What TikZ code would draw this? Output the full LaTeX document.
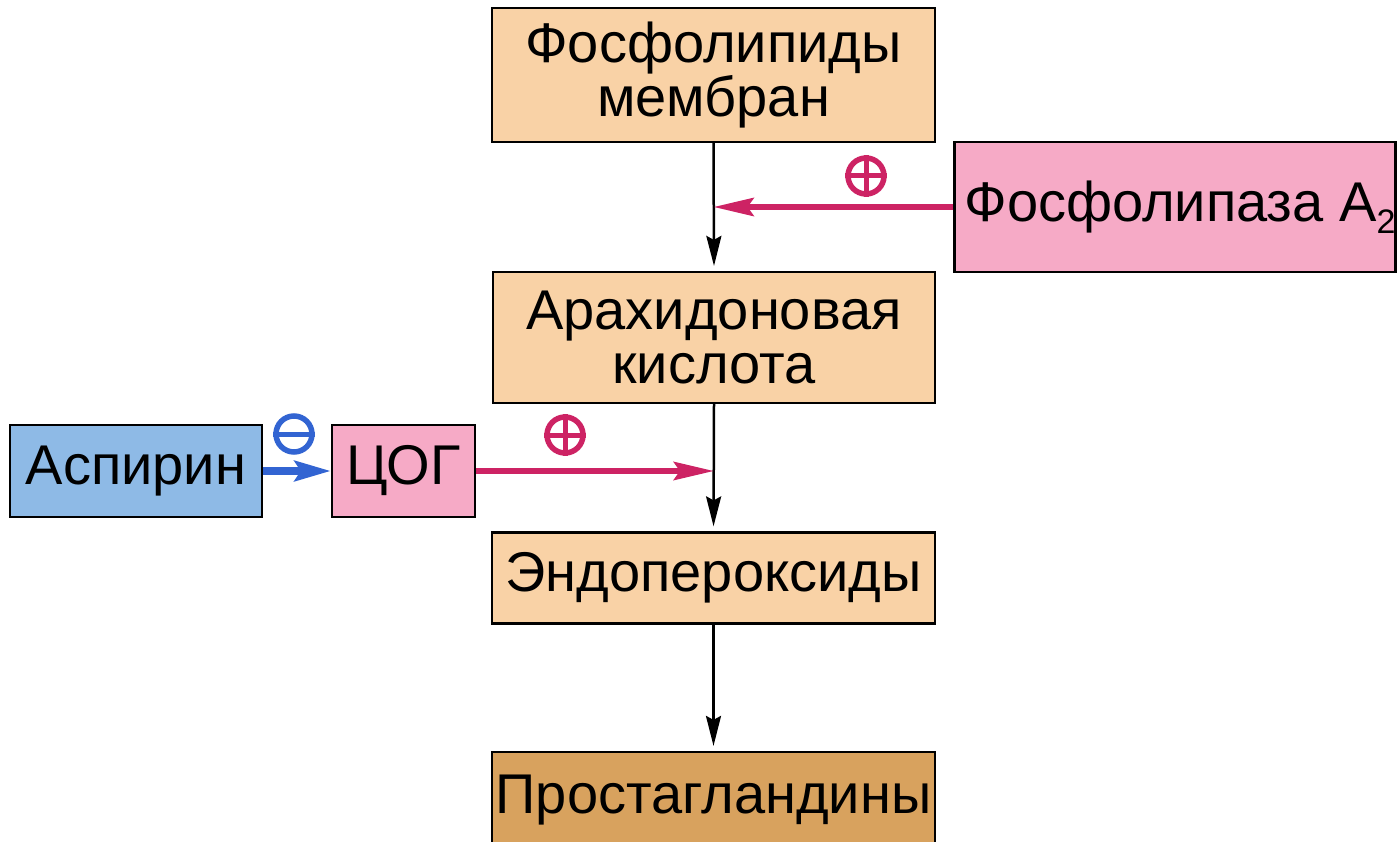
\documentclass[tikz,border=0pt]{standalone}
\usepackage{fontspec}
\setmainfont{Liberation Sans}
\usetikzlibrary{arrows.meta, positioning}
\definecolor{peach}{RGB}{249,210,166}
\definecolor{rosebox}{RGB}{246,170,198}
\definecolor{skybox}{RGB}{142,186,230}
\definecolor{tanbox}{RGB}{216,162,94}
\definecolor{plusred}{RGB}{205,35,100}
\definecolor{minusblue}{RGB}{50,100,210}
\newcommand{\subtwo}{\raisebox{-0.22em}{\fontsize{34}{34}\selectfont 2}}
\tikzset{
  box/.style={draw=black, line width=2.2pt, inner sep=0pt, align=center,
    font=\fontsize{56}{54}\selectfont},
  flow/.style={line width=2.5pt, -{Stealth[length=30pt,width=15pt,inset=4pt]}, shorten >=5pt},
  boost/.style={draw=plusred, line width=6pt, -{Stealth[length=40pt,width=18pt,inset=6pt]}},
  block/.style={draw=minusblue, line width=8pt, -{Stealth[length=36pt,width=20pt,inset=6pt]}},
  sgn/.style={circle, draw, line width=5.5pt, minimum size=36pt, inner sep=0pt}
}
\begin{document}
\begin{tikzpicture}[x=1pt, y=-1pt]
\useasboundingbox (0,0) rectangle (1400,842);
\fill[white] (0,0) rectangle (1400,842);
% Main chain
\node[box, fill=peach, minimum width=443pt, minimum height=134pt] (phos) at (713.5,75) {Фосфолипиды\\мембран};
\node[box, fill=peach, minimum width=442pt, minimum height=131pt] (arach) at (714,337.5) {Арахидоновая\\кислота};
\node[box, fill=peach, minimum width=443pt, minimum height=91pt] (endo) at (713.5,578) {Эндопероксиды};
\node[box, fill=tanbox, minimum width=443pt, minimum height=96pt] (prost) at (713.5,800) {Простагландины};
% Enzymes
\node[box, fill=rosebox, minimum width=440pt, minimum height=130pt] (pla) at (1175,207) {\hspace*{10pt}Фосфолипаза A\subtwo};
\node[box, fill=rosebox, minimum width=143pt, minimum height=92pt] (cox) at (403.5,471) {ЦОГ};
\node[box, fill=skybox, minimum width=252pt, minimum height=92pt] (asp) at (136,471) {Аспирин};
\draw[flow] (phos.south) -- (arach.north);
\draw[flow] (arach.south) -- (endo.north);
\draw[flow] (endo.south) -- (prost.north);
\coordinate (hitA) at (phos.south |- pla.west);
\coordinate (hitB) at (arach.south |- cox.east);
\draw[boost] (pla.west) -- (hitA);
\draw[boost] (cox.east) -- (hitB);
\draw[block] (asp.east) -- (cox.west);
% Signs
\node[sgn, draw=plusred] (sgnA) at (866,176) {};
\draw[plusred, line width=5pt] (sgnA.north) -- (sgnA.south) (sgnA.west) -- (sgnA.east);
\node[sgn, draw=plusred] (sgnB) at (565,435) {};
\draw[plusred, line width=5pt] (sgnB.north) -- (sgnB.south) (sgnB.west) -- (sgnB.east);
\node[sgn, draw=minusblue] (sgnC) at (294,434) {};
\draw[minusblue, line width=5pt] (sgnC.west) -- (sgnC.east);
\end{tikzpicture}
\end{document}
